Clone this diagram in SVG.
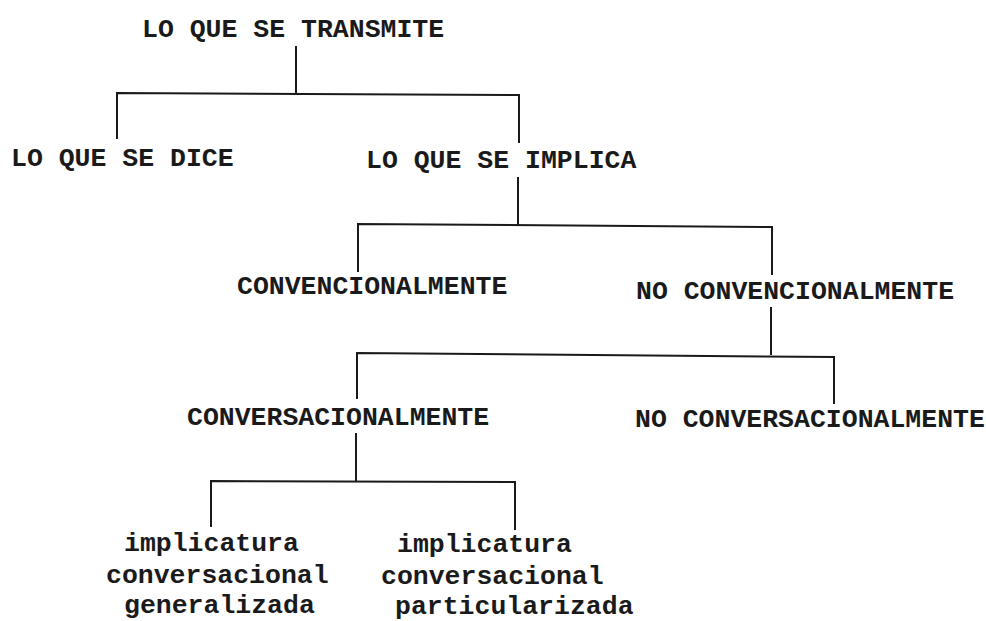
<svg xmlns="http://www.w3.org/2000/svg" width="986" height="621" viewBox="0 0 986 621">
<style>
  text { font-family: "Liberation Mono", "Courier New", monospace; font-weight: bold; font-size: 26.5px; fill: #1a1a1a; }
  .c { fill: none; stroke: #1a1a1a; stroke-width: 2; stroke-linejoin: miter; }
</style>
<rect width="986" height="621" fill="#ffffff"/>
<g id="connectors">
  <path class="c" d="M296,46 V93"/>
  <path class="c" d="M117,139 V93 L519,95 V143"/>
  <path class="c" d="M518,177 V225"/>
  <path class="c" d="M358,272 V224 L772,227 V275"/>
  <path class="c" d="M771,307 V355"/>
  <path class="c" d="M357,399 V353 L834,357 V404"/>
  <path class="c" d="M356,433 V481"/>
  <path class="c" d="M211,527 V481 L515,482 V530"/>
</g>
<g id="n-transmite"><text x="142" y="37">LO QUE SE TRANSMITE</text></g>
<g id="n-dice"><text x="11" y="166">LO QUE SE DICE</text></g>
<g id="n-implica"><text x="366" y="168">LO QUE SE IMPLICA</text></g>
<g id="n-convencional"><text x="237" y="294">CONVENCIONALMENTE</text></g>
<g id="n-noconvencional"><text x="636" y="299">NO CONVENCIONALMENTE</text></g>
<g id="n-conversacional"><text x="187" y="425">CONVERSACIONALMENTE</text></g>
<g id="n-noconversacional"><text x="635" y="427">NO CONVERSACIONALMENTE</text></g>
<g id="n-generalizada">
  <text x="124" y="551">implicatura</text>
  <text x="106" y="583">conversacional</text>
  <text x="124" y="613">generalizada</text>
</g>
<g id="n-particularizada">
  <text x="397" y="552">implicatura</text>
  <text x="381" y="584">conversacional</text>
  <text x="395" y="614">particularizada</text>
</g>
</svg>
